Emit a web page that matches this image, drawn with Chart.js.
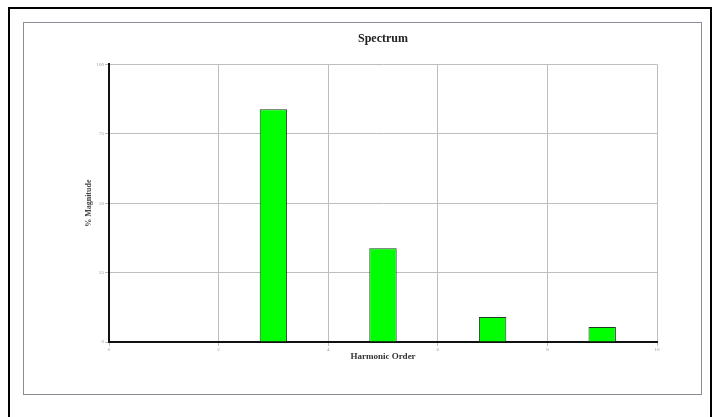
<!DOCTYPE html>
<html>
<head>
<meta charset="utf-8">
<script src="https://cdn.jsdelivr.net/npm/chart.js@4"></script>
<style>
  body { margin: 0; background: #fff; }
  .outer { position: absolute; left: 8px; top: 7px; width: 700px; height: 420px; border: 2px solid #000; }
  .inner { position: absolute; left: 23px; top: 22px; width: 679px; height: 373px; border: 1px solid #8c8c96; box-sizing: border-box; }
</style>
</head>
<body>
<div class="outer"></div>
<div class="inner"><canvas id="myChart" width="677" height="371"></canvas></div>
<script>
// harmonic spectrum, odd orders only
const harmonicOrders = [3, 5, 7, 9];
const magnitudes = [83.8, 33.8, 9.0, 5.4];
const yTicks = [0, 25, 50, 75, 100];
const xTicks = [0, 2, 4, 6, 8, 10];

const serif = "'Liberation Serif', 'DejaVu Serif', serif";

const config = {
  type: 'bar',
  data: {
    datasets: [{
      label: '% Magnitude',
      data: harmonicOrders.map((h, i) => ({ x: h, y: magnitudes[i] })),
      backgroundColor: '#00ff00',
      borderColor: '#1f3a1f',
      borderWidth: 1,
      categoryPercentage: 0.25,
      barPercentage: 1
    }]
  },
  options: {
    responsive: false,
    animation: false,
    layout: { padding: { left: 60, right: 44, top: 0, bottom: 32 } },
    plugins: {
      legend: { display: false },
      tooltip: { enabled: false },
      title: {
        display: true,
        fullSize: false,
        text: 'Spectrum',
        color: '#222',
        font: { family: serif, size: 12, weight: 'bold' },
        padding: { top: 9, bottom: 18 }
      }
    },
    scales: {
      x: {
        type: 'linear',
        min: 0,
        max: 10,
        offset: false,
        afterBuildTicks: (axis) => { axis.ticks = xTicks.map(v => ({ value: v })); },
        grid: { color: '#bdbdbd', tickLength: 4, offset: false },
        border: { color: '#111', width: 2 },
        ticks: { color: '#999', font: { family: serif, size: 5 }, padding: 1, maxRotation: 0 },
        title: {
          display: true,
          text: 'Harmonic Order',
          color: '#333',
          font: { family: serif, size: 9, weight: 'bold' },
          padding: { top: 0, bottom: 0 }
        },
        afterFit: (axis) => { axis.height = 20; }
      },
      y: {
        min: 0,
        max: 100,
        afterBuildTicks: (axis) => { axis.ticks = yTicks.map(v => ({ value: v })); },
        grid: { color: '#bdbdbd', tickLength: 4 },
        border: { color: '#111', width: 2 },
        ticks: { color: '#999', font: { family: serif, size: 5 }, padding: 1 },
        title: {
          display: true,
          text: '% Magnitude',
          color: '#444',
          font: { family: serif, size: 8, weight: 'bold' },
          padding: { top: 0, bottom: 0 }
        },
        afterFit: (axis) => { axis.width = 25; }
      }
    }
  }
};

const ctx = document.getElementById('myChart').getContext('2d');
const myChart = new Chart(ctx, config);
</script>
</body>
</html>
